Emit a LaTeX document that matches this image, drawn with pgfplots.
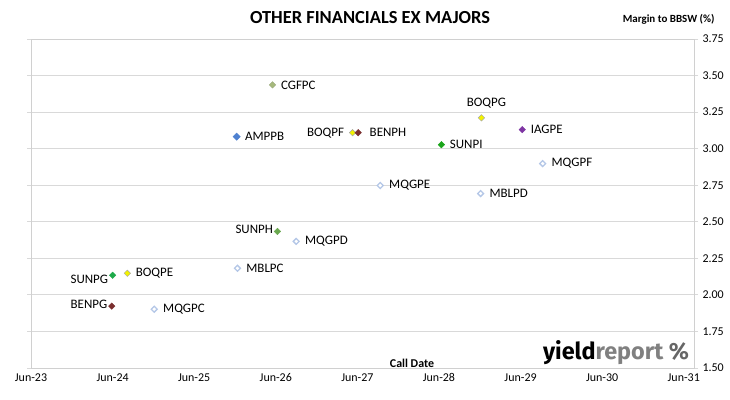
\documentclass[border=0pt]{standalone}
\usepackage{pgfplots}
\pgfplotsset{compat=1.18}
\usepackage{fontspec}
\setmainfont{Carlito}
\newfontfamily\logofont{Fira Sans}
\definecolor{gridc}{HTML}{D9D9D9}
\definecolor{axc}{HTML}{D0D0D0}
\definecolor{cgf}{HTML}{A6B97C}
\definecolor{amp}{HTML}{4F81D0}
\definecolor{boq}{HTML}{F2F200}
\definecolor{ben}{HTML}{7A2E2E}
\definecolor{iag}{HTML}{7E35A3}
\definecolor{suni}{HTML}{1BA51B}
\definecolor{sunh}{HTML}{6AA84F}
\definecolor{sung}{HTML}{1EAA4A}
\definecolor{mqg}{HTML}{B4C7E7}
\begin{document}
\begin{tikzpicture}[x=1bp,y=1bp]
\begin{axis}[
  at={(0,0)}, anchor=south west,
  scale only axis, width=663bp, height=329bp,
  xmin=2023.5, xmax=2031.625, ymin=1.5, ymax=3.75,
  xtick={2023.5,2024.5,...,2031.5},
  xticklabels={Jun-23,Jun-24,Jun-25,Jun-26,Jun-27,Jun-28,Jun-29,Jun-30,Jun-31},
  ytick={1.5,1.75,...,3.75},
  yticklabel pos=right,
  /pgf/number format/.cd, fixed, fixed zerofill, precision=2, assume math mode=true,
  /pgfplots/.cd,
  axis line style={draw=axc},
  ymajorgrids, grid style={draw=gridc, line width=0.8pt},
  major x tick style={draw=none},
  major y tick style={draw=gridc, line width=0.8pt},
  ytick align=outside, major tick length=4bp,
  tick label style={font=\fontsize{12}{14}\selectfont, text=black},
  xticklabel style={yshift=-2bp},
  yticklabel style={xshift=1bp},
  clip=false,
  nodes near coords style={font=\fontsize{13}{15}\selectfont, text=black},
  every node near coord/.append style={anchor=west, xshift=5bp},
]
% CGFPC
\addplot[only marks, mark=square*, mark options={rotate=45, fill=cgf, draw=cgf!70!gray}, mark size=2.3,
  nodes near coords={CGFPC}] coordinates {(2026.46,3.436)};
% AMPPB
\addplot[only marks, mark=square*, mark options={rotate=45, fill=amp, draw=amp}, mark size=2.6,
  nodes near coords={AMPPB}] coordinates {(2026.02,3.082)};
% BOQPF
\addplot[only marks, mark=square*, mark options={rotate=45, fill=boq, draw=gray!70}, mark size=2.3,
  nodes near coords={BOQPF}, every node near coord/.append style={anchor=east, xshift=-10bp}] coordinates {(2027.44,3.109)};
% BENPH
\addplot[only marks, mark=square*, mark options={rotate=45, fill=ben, draw=ben}, mark size=2.3,
  nodes near coords={BENPH}, every node near coord/.append style={xshift=3bp}] coordinates {(2027.51,3.109)};
% BOQPG
\addplot[only marks, mark=square*, mark options={rotate=45, fill=boq, draw=gray!70}, mark size=2.3,
  nodes near coords={BOQPG}, every node near coord/.append style={anchor=south, xshift=0bp, yshift=6bp}] coordinates {(2029.02,3.211)};
% IAGPE
\addplot[only marks, mark=square*, mark options={rotate=45, fill=iag, draw=iag}, mark size=2.3,
  nodes near coords={IAGPE}] coordinates {(2029.52,3.130)};
% SUNPI
\addplot[only marks, mark=square*, mark options={rotate=45, fill=suni, draw=suni}, mark size=2.3,
  nodes near coords={SUNPI}] coordinates {(2028.53,3.027)};
% MQGPF
\addplot[only marks, mark=square*, mark options={rotate=45, fill=white, draw=mqg, line width=1.3pt}, mark size=2.1,
  nodes near coords={MQGPF}] coordinates {(2029.77,2.898)};
% MQGPE
\addplot[only marks, mark=square*, mark options={rotate=45, fill=white, draw=mqg, line width=1.3pt}, mark size=2.1,
  nodes near coords={MQGPE}] coordinates {(2027.78,2.748)};
% MBLPD
\addplot[only marks, mark=square*, mark options={rotate=45, fill=white, draw=mqg, line width=1.3pt}, mark size=2.1,
  nodes near coords={MBLPD}] coordinates {(2029.01,2.693)};
% SUNPH
\addplot[only marks, mark=square*, mark options={rotate=45, fill=sunh, draw=sunh}, mark size=2.3,
  nodes near coords={SUNPH}, every node near coord/.append style={anchor=east, xshift=-6bp, yshift=2bp}] coordinates {(2026.52,2.434)};
% MQGPD
\addplot[only marks, mark=square*, mark options={rotate=45, fill=white, draw=mqg, line width=1.3pt}, mark size=2.1,
  nodes near coords={MQGPD}] coordinates {(2026.75,2.366)};
% MBLPC
\addplot[only marks, mark=square*, mark options={rotate=45, fill=white, draw=mqg, line width=1.3pt}, mark size=2.1,
  nodes near coords={MBLPC}] coordinates {(2026.03,2.182)};
% SUNPG
\addplot[only marks, mark=square*, mark options={rotate=45, fill=sung, draw=sung}, mark size=2.3,
  nodes near coords={SUNPG}, every node near coord/.append style={anchor=east, xshift=-6bp, yshift=-4bp}] coordinates {(2024.50,2.134)};
% BOQPE
\addplot[only marks, mark=square*, mark options={rotate=45, fill=boq, draw=gray!70}, mark size=2.3,
  nodes near coords={BOQPE}] coordinates {(2024.68,2.148)};
% BENPG
\addplot[only marks, mark=square*, mark options={rotate=45, fill=ben, draw=ben}, mark size=2.3,
  nodes near coords={BENPG}, every node near coord/.append style={anchor=east, xshift=-6bp, yshift=2bp}] coordinates {(2024.49,1.923)};
% MQGPC
\addplot[only marks, mark=square*, mark options={rotate=45, fill=white, draw=mqg, line width=1.3pt}, mark size=2.1,
  nodes near coords={MQGPC}] coordinates {(2025.01,1.902)};
\end{axis}
\node[font=\fontsize{18.5}{20}\selectfont\bfseries] at (339,350) {OTHER FINANCIALS EX MAJORS};
\node[font=\fontsize{11}{13}\selectfont\bfseries, anchor=east] at (687,349) {Margin to BBSW (\%)};
\node[font=\fontsize{12}{14}\selectfont\bfseries] at (381,5) {Call Date};
\node[font=\logofont\fontsize{23.5}{25}\selectfont\bfseries] at (585,15) {yield\textcolor{gray}{report} \textcolor{gray!80!black}{\%}};
\path[use as bounding box] (-31,-31) rectangle (699,368);
\end{tikzpicture}
\end{document}
